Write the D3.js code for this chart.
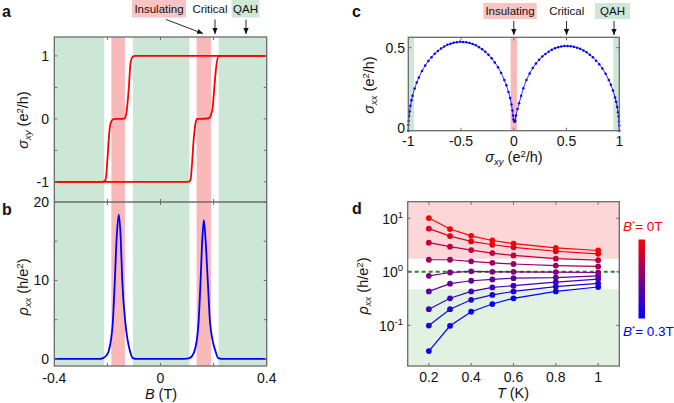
<!DOCTYPE html>
<html><head><meta charset="utf-8">
<script src="https://cdn.jsdelivr.net/npm/d3@7"></script>
<style>
body{margin:0;background:#fff}
svg{display:block;font-family:"Liberation Sans",Arial,Helvetica,sans-serif}
</style>
</head><body>
<svg id="chart" width="674" height="403"></svg>
<script>
// ---------------- DATA ----------------
// Panel a: Hall conductance hysteresis branches (B in T, sigma_xy in e^2/h)
const B_sweepDown   = [-0.4,-0.22,-0.207,-0.2,-0.195,-0.188,-0.18,-0.17,-0.14,-0.133,-0.127,-0.119,-0.113,-0.104,-0.095,0.4];
const sxy_sweepDown = [-1,-1,-0.97,-0.65,-0.33,-0.07,-0.01,0,0,0.02,0.14,0.51,0.88,0.99,1,1];
const B_sweepUp     = [-0.4,0.105,0.113,0.118,0.125,0.132,0.138,0.15,0.182,0.19,0.197,0.203,0.21,0.218,0.23,0.4];
const sxy_sweepUp   = [-1,-1,-0.97,-0.75,-0.33,-0.07,0,0,0.01,0.06,0.2,0.51,0.83,0.99,1,1];
// Panel b: longitudinal resistivity (h/e^2)
const B_rho   = [-0.4,-0.23,-0.217,-0.205,-0.195,-0.18,-0.172,-0.165,-0.157,-0.15,-0.144,-0.132,-0.115,-0.104,-0.09,0.09,0.109,0.128,0.143,0.151,0.157,0.163,0.17,0.178,0.187,0.207,0.218,0.235,0.4];
const rho_xx  = [0,0,0.1,0.4,1,4.5,10,15.5,18.4,15.5,10,4.5,1,0.1,0,0,0.1,1,4.5,10,15,17.7,15,10,4.5,1,0.1,0,0];
// background regions [start, end, kind]
const regionsB = [[-0.4,-0.212,"QAH"],[-0.185,-0.134,"Insulating"],[-0.104,0.109,"QAH"],[0.136,0.19,"Insulating"],[0.219,0.4,"QAH"]];
const regionsC = [[-1,-0.946,"QAH"],[-0.03,0.03,"Insulating"],[0.943,1,"QAH"]];
// Panel c: flow diagram (sigma_xy, sigma_xx)
const sxyL = [-1,-0.999,-0.997,-0.993,-0.988,-0.98,-0.97,-0.96,-0.94,-0.92,-0.9,-0.87,-0.84,-0.81,-0.78,-0.75,-0.72,-0.69,-0.66,-0.63,-0.6,-0.57,-0.54,-0.51,-0.48,-0.45,-0.42,-0.39,-0.36,-0.33,-0.3,-0.27,-0.24,-0.21,-0.18,-0.15,-0.12,-0.09,-0.07,-0.05,-0.035,-0.022,-0.013,-0.007,-0.003,0.004,0.012];
const sxxL = [0,0.034,0.058,0.089,0.116,0.15,0.183,0.21,0.254,0.29,0.321,0.36,0.392,0.42,0.443,0.463,0.48,0.495,0.507,0.517,0.524,0.53,0.533,0.535,0.534,0.532,0.528,0.522,0.514,0.503,0.49,0.475,0.457,0.436,0.411,0.382,0.348,0.306,0.273,0.233,0.197,0.158,0.122,0.092,0.068,0.055,0.055];
const sxyR = [0.012,0.02,0.035,0.05,0.07,0.09,0.12,0.15,0.18,0.21,0.24,0.27,0.3,0.33,0.36,0.39,0.42,0.45,0.48,0.51,0.54,0.57,0.6,0.63,0.66,0.69,0.72,0.75,0.78,0.81,0.84,0.87,0.9,0.92,0.94,0.96,0.97,0.98,0.988,0.993,0.997,0.999,1];
const sxxR = [0.06,0.09,0.13,0.165,0.21,0.255,0.305,0.345,0.378,0.405,0.428,0.447,0.462,0.476,0.488,0.496,0.503,0.507,0.51,0.51,0.508,0.505,0.5,0.493,0.483,0.472,0.458,0.442,0.422,0.4,0.374,0.343,0.306,0.277,0.242,0.2,0.174,0.143,0.111,0.085,0.056,0.032,0];
// Panel d: rho_xx vs T for B* from 0 T (top) to 0.3 T (bottom)
const T_K = [0.2,0.3,0.4,0.5,0.6,0.8,1.0];
const rho_T1 = [10.1,6.3,4.7,3.85,3.36,2.8,2.5];
const rho_T2 = [6.4,4.65,3.7,3.2,2.87,2.42,2.17];
const rho_T3 = [3.5,2.95,2.55,2.24,2.02,1.76,1.65];
const rho_T4 = [1.68,1.68,1.57,1.47,1.4,1.31,1.26];
const rho_T5 = [0.84,0.97,1.02,1.0,1.0,0.99,0.97];
const rho_T6 = [0.43,0.60,0.68,0.72,0.76,0.78,0.84];
const rho_T7 = [0.20,0.32,0.43,0.51,0.55,0.64,0.73];
const rho_T8 = [0.099,0.20,0.30,0.37,0.43,0.53,0.61];
const rho_T9 = [0.033,0.098,0.18,0.25,0.32,0.43,0.52];
const rhoCurves = [rho_T1,rho_T2,rho_T3,rho_T4,rho_T5,rho_T6,rho_T7,rho_T8,rho_T9];
const dRegionPink = [1.75, 25];
const dRegionGreen = [0.001, 0.475];
// tick values
const ticksBx = [-0.4,-0.2,0,0.2,0.4], labelsBx = [-0.4,0,0.4];
const ticksAy = [-1,-0.5,0,0.5,1], labelsAy = [-1,0,1];
const ticksBy = [0,5,10,15,20], labelsBy = [0,10,20];
const ticksCx = [-1,-0.5,0,0.5,1];
const ticksCy = [0,0.5];
const ticksDx = [0.2,0.4,0.6,0.8,1];
const ticksDy = [0.1,1,10];

// ---------------- DRAW ----------------
const svg = d3.select("#chart");
const FRAME = "#6b6b6b";
const COL = {QAH:"#cde7d7", Insulating:"#f9b9b9"};
const TICKFONT = 14;
const TITLEFONT = 14.5;

const defs = svg.append("defs");
defs.append("marker").attr("id","arr").attr("viewBox","0 0 8 8").attr("refX",8).attr("refY",4)
  .attr("markerWidth",6).attr("markerHeight",6).attr("markerUnits","userSpaceOnUse").attr("orient","auto")
  .append("path").attr("d","M0,0.5 L8,4 L0,7.5 Z").attr("fill","#111");
const grad = defs.append("linearGradient").attr("id","cbar").attr("x1",0).attr("y1",0).attr("x2",0).attr("y2",1);
grad.append("stop").attr("offset","0%").attr("stop-color","#ff0000");
grad.append("stop").attr("offset","100%").attr("stop-color","#0000ff");

function ticks(g, scale, vals, orient, pos, len){
  vals.forEach(v=>{
    const p = scale(v);
    if(orient==="h") g.append("line").attr("x1",p).attr("x2",p).attr("y1",pos).attr("y2",pos+len).attr("stroke",FRAME).attr("stroke-width",1);
    else g.append("line").attr("y1",p).attr("y2",p).attr("x1",pos).attr("x2",pos+len).attr("stroke",FRAME).attr("stroke-width",1);
  });
}
function frame(x0,y0,x1,y1){
  svg.append("rect").attr("x",x0).attr("y",y0).attr("width",x1-x0).attr("height",y1-y0)
    .attr("fill","none").attr("stroke",FRAME).attr("stroke-width",1.3);
}
function label(x,y,txt,anchor,size){
  return svg.append("text").attr("x",x).attr("y",y).attr("text-anchor",anchor||"middle")
    .attr("font-size",size||TICKFONT).attr("fill","#111").text(txt);
}

// ===== Panels a & b =====
const xAB = d3.scaleLinear().domain([-0.4,0.4]).range([54.3,266.7]);
const yA = d3.scaleLinear().domain([-1.32,1.3]).range([202,37]);
const yB = d3.scaleLinear().domain([-0.9,20]).range([366,202]);
regionsB.forEach(r=>{
  svg.append("rect").attr("x",xAB(r[0])).attr("width",xAB(r[1])-xAB(r[0])).attr("y",37).attr("height",366-37).attr("fill",COL[r[2]]);
});
const lineA = d3.line().x(d=>xAB(d[0])).y(d=>yA(d[1])).curve(d3.curveMonotoneX);
svg.append("path").attr("d",lineA(d3.zip(B_sweepDown,sxy_sweepDown))).attr("fill","none").attr("stroke","#ff0000").attr("stroke-width",1.8);
svg.append("path").attr("d",lineA(d3.zip(B_sweepUp,sxy_sweepUp))).attr("fill","none").attr("stroke","#ff0000").attr("stroke-width",1.8);
const lineB = d3.line().x(d=>xAB(d[0])).y(d=>yB(d[1])).curve(d3.curveMonotoneX);
svg.append("path").attr("d",lineB(d3.zip(B_rho,rho_xx))).attr("fill","none").attr("stroke","#0000ff").attr("stroke-width",1.8);

frame(54.3,37,266.7,366);
svg.append("line").attr("x1",54.3).attr("x2",266.7).attr("y1",202).attr("y2",202).attr("stroke",FRAME).attr("stroke-width",1.6);
const gt = svg.append("g");
ticks(gt,xAB,ticksBx.slice(1,-1),"h",37,3);
ticks(gt,xAB,ticksBx.slice(1,-1),"h",202,-3);
ticks(gt,xAB,ticksBx.slice(1,-1),"h",202,3);
ticks(gt,xAB,ticksBx.slice(1,-1),"h",366,-3);
ticks(gt,yA,ticksAy,"v",54.3,3);
ticks(gt,yA,ticksAy,"v",266.7,-3);
ticks(gt,yB,ticksBy,"v",54.3,3);
ticks(gt,yB,ticksBy,"v",266.7,-3);
labelsAy.forEach(v=>label(49,yA(v)+5,String(v),"end"));
labelsBy.forEach(v=>label(49,yB(v)+5,String(v),"end"));
labelsBx.forEach(v=>label(xAB(v),383,String(v)));

// axis titles
function sigmaLabel(x,y,sym,sub,unitTop,unitSup,unitRest,rot){
  const t = svg.append("text").attr("transform",`translate(${x},${y}) rotate(${rot})`).attr("text-anchor","middle").attr("font-size",TITLEFONT).attr("fill","#111");
  t.append("tspan").attr("font-style","italic").text(sym);
  t.append("tspan").attr("font-style","italic").attr("font-size",9.5).attr("dy",3).text(sub);
  t.append("tspan").attr("dy",-3).text(" ("+unitTop);
  t.append("tspan").attr("font-size",9.5).attr("dy",-5.5).text(unitSup);
  t.append("tspan").attr("dy",5.5).text(unitRest+")");
  return t;
}
sigmaLabel(28,120,"σ","xy","e","2","/h",-90);
sigmaLabel(28,287,"ρ","xx","h/e","2","",-90);
{
  const t = svg.append("text").attr("x",161).attr("y",399).attr("text-anchor","middle").attr("font-size",TITLEFONT).attr("fill","#111");
  t.append("tspan").attr("font-style","italic").text("B");
  t.append("tspan").text(" (T)");
}
// annotations a
svg.append("rect").attr("x",132).attr("y",0).attr("width",54).attr("height",17.5).attr("fill","#f9c4c4");
svg.append("rect").attr("x",231.7).attr("y",0).attr("width",27.6).attr("height",17.5).attr("fill","#cfe7d7");
label(159,13,"Insulating","middle",11.5);
label(210,13,"Critical","middle",11.5);
label(245.5,13,"QAH","middle",11.5);
svg.append("line").attr("x1",166).attr("y1",19.5).attr("x2",203).attr("y2",33.5).attr("stroke","#111").attr("stroke-width",0.9).attr("marker-end","url(#arr)");
svg.append("line").attr("x1",215).attr("y1",19.5).attr("x2",215).attr("y2",34).attr("stroke","#111").attr("stroke-width",0.9).attr("marker-end","url(#arr)");
svg.append("line").attr("x1",246).attr("y1",19.5).attr("x2",246).attr("y2",34).attr("stroke","#111").attr("stroke-width",0.9).attr("marker-end","url(#arr)");

// ===== Panel c =====
const xC = d3.scaleLinear().domain([-1,1]).range([408.3,619.3]);
const yC = d3.scaleLinear().domain([0,0.5625]).range([130.7,37.3]);
regionsC.forEach(r=>{
  svg.append("rect").attr("x",xC(r[0])).attr("width",xC(r[1])-xC(r[0])).attr("y",37.3).attr("height",130.7-37.3).attr("fill",COL[r[2]]);
});
const lineC = d3.line().x(d=>xC(d[0])).y(d=>yC(d[1]));
[[sxyL,sxxL],[sxyR,sxxR]].forEach(([xs,ys])=>{
  const pts = d3.zip(xs,ys);
  svg.append("path").attr("d",lineC(pts)).attr("fill","none").attr("stroke","#0000ff").attr("stroke-width",0.8);
  svg.append("g").selectAll("circle").data(pts).join("circle")
    .attr("cx",d=>xC(d[0])).attr("cy",d=>yC(d[1])).attr("r",1.25).attr("fill","#0000ff");
});
frame(408.3,37.3,619.3,130.7);
const gc = svg.append("g");
ticks(gc,xC,ticksCx.slice(1,-1),"h",37.3,3);
ticks(gc,xC,ticksCx.slice(1,-1),"h",130.7,-3);
ticks(gc,yC,ticksCy,"v",408.3,3);
ticks(gc,yC,ticksCy,"v",619.3,-3);
ticksCx.forEach(v=>label(xC(v),146,String(v)));
ticksCy.forEach(v=>label(405,yC(v)+ (v===0 ? 2.5 : 5),String(v),"end"));
sigmaLabel(374,85,"σ","xx","e","2","/h",-90);
sigmaLabel(514,162,"σ","xy","e","2","/h",0);
svg.append("rect").attr("x",483.3).attr("y",3).attr("width",53.4).attr("height",16).attr("fill","#f9c4c4");
svg.append("rect").attr("x",595).attr("y",3).attr("width",35).attr("height",16).attr("fill","#cfe7d7");
label(510,15,"Insulating","middle",11.5);
label(566.7,15,"Critical","middle",11.5);
label(612.5,15,"QAH","middle",11.5);
[xC(0),xC(0.5),xC(0.95)].forEach(x=>{
  svg.append("line").attr("x1",x).attr("y1",21).attr("x2",x).attr("y2",35).attr("stroke","#111").attr("stroke-width",0.9).attr("marker-end","url(#arr)");
});

// ===== Panel d =====
const xD = d3.scaleLinear().domain([0.1,1.1]).range([407.7,619.3]);
const yD = d3.scaleLog().domain([Math.pow(10,-1.76),Math.pow(10,1.31)]).range([366,201.7]).clamp(true);
svg.append("rect").attr("x",407.7).attr("width",619.3-407.7).attr("y",yD(dRegionPink[1])).attr("height",yD(dRegionPink[0])-yD(dRegionPink[1])).attr("fill","#fdd7d7");
svg.append("rect").attr("x",407.7).attr("width",619.3-407.7).attr("y",yD(dRegionGreen[1])).attr("height",yD(dRegionGreen[0])-yD(dRegionGreen[1])).attr("fill","#e1f1e2");
svg.append("line").attr("x1",407.7).attr("x2",619.3).attr("y1",yD(1)).attr("y2",yD(1)).attr("stroke","#1c8c1c").attr("stroke-width",2).attr("stroke-dasharray","4,3");
const colorD = d3.interpolateRgb("#ff0000","#0000ff");
const lineD = d3.line().x(d=>xD(d[0])).y(d=>yD(d[1]));
rhoCurves.slice().reverse().forEach((vals,ri)=>{
  const i = rhoCurves.length-1-ri;
  const c = colorD(i/(rhoCurves.length-1));
  const pts = d3.zip(T_K,vals);
  svg.append("path").attr("d",lineD(pts)).attr("fill","none").attr("stroke",c).attr("stroke-width",1.2);
  svg.append("g").selectAll("circle").data(pts).join("circle")
    .attr("cx",d=>xD(d[0])).attr("cy",d=>yD(d[1])).attr("r",2.9).attr("fill",c);
});
frame(407.7,201.7,619.3,366);
const gd = svg.append("g");
ticks(gd,xD,ticksDx,"h",201.7,3);
ticks(gd,xD,ticksDx,"h",366,-3);
ticks(gd,yD,ticksDy,"v",407.7,3);
ticks(gd,yD,ticksDy,"v",619.3,-3);
ticksDx.forEach(v=>label(xD(v),382,String(v)));
ticksDy.forEach(v=>{
  const t = svg.append("text").attr("x",403).attr("y",yD(v)+5.5).attr("text-anchor","end").attr("font-size",TICKFONT).attr("fill","#111");
  t.append("tspan").text("10");
  t.append("tspan").attr("font-size",9.5).attr("dy",-6).text(String(Math.round(Math.log10(v))));
});
sigmaLabel(368,286,"ρ","xx","h/e","2","",-90);
{
  const t = svg.append("text").attr("x",513).attr("y",398).attr("text-anchor","middle").attr("font-size",TITLEFONT).attr("fill","#111");
  t.append("tspan").attr("font-style","italic").text("T");
  t.append("tspan").text(" (K)");
}
// colorbar
svg.append("rect").attr("x",638.5).attr("y",239.5).attr("width",6.5).attr("height",79).attr("fill","url(#cbar)");
function bLabel(x,y,val,color){
  const t = svg.append("text").attr("x",x).attr("y",y).attr("font-size",13.5).attr("fill",color);
  t.append("tspan").attr("font-style","italic").text("B");
  t.append("tspan").attr("font-size",8).attr("dy",-5).text("*");
  t.append("tspan").attr("dy",5).text("= "+val);
}
bLabel(623,231,"0T","#ff0000");
bLabel(623,336,"0.3T","#0000ff");

// panel letters
[["a",2,17],["b",2,215],["c",352,17],["d",352,214]].forEach(([s,x,y])=>{
  svg.append("text").attr("x",x).attr("y",y).attr("font-size",16).attr("font-weight","bold").attr("fill","#111").text(s);
});
</script>
</body></html>
